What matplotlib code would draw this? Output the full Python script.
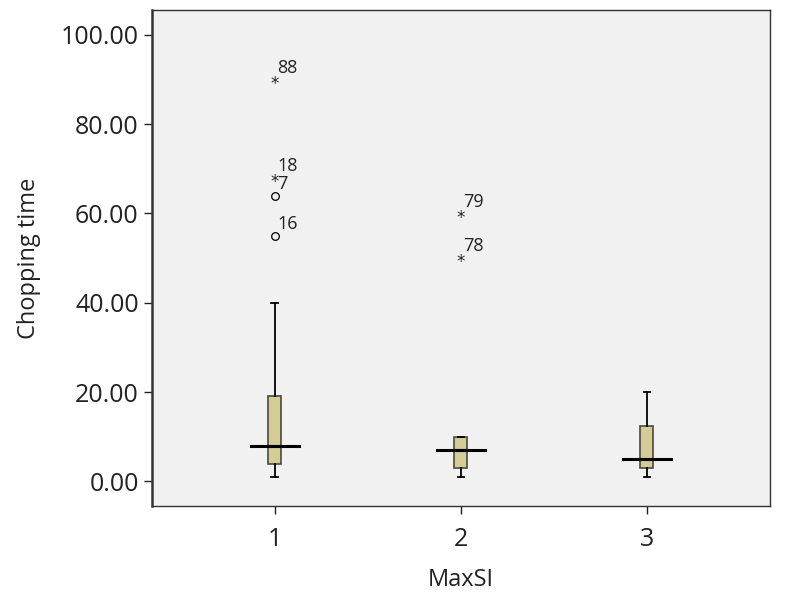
import matplotlib.pyplot as plt

plt.rcParams['font.family'] = ['Open Sans', 'DejaVu Sans']

# Box summary values
groups = [1, 2, 3]
whis_lo = [1, 1, 1]
q1 = [3.8, 3.0, 3.0]
med = [8.0, 7.0, 5.0]
q3 = [19.0, 10.0, 12.5]
whis_hi = [40, 10, 20]

# Outliers: group, value, case number, kind ('o' = outlier, '*' = extreme)
out_group = [1, 1, 1, 1, 2, 2]
out_value = [90, 68, 64, 55, 60, 50]
out_label = ['88', '18', '7', '16', '79', '78']
out_kind = ['*', '*', 'o', 'o', '*', '*']

fig = plt.figure(figsize=(7.87, 5.98), dpi=100)
ax = fig.add_axes([0.193, 0.154, 0.785, 0.829])
ax.set_facecolor('#f0f1f0')

stats = []
for i in range(len(groups)):
    stats.append({'whislo': whis_lo[i], 'q1': q1[i], 'med': med[i],
                  'q3': q3[i], 'whishi': whis_hi[i], 'fliers': []})

ax.bxp(stats, positions=groups, widths=0.07, patch_artist=True,
       showfliers=False,
       boxprops=dict(facecolor='#d3cc96', edgecolor='#4a4a3a', linewidth=1.2),
       medianprops=dict(color='black', linewidth=2.2),
       whiskerprops=dict(color='black', linewidth=1.3),
       capprops=dict(color='black', linewidth=1.3))

# widen medians like SPSS
for g, m in zip(groups, med):
    ax.plot([g - 0.13, g + 0.13], [m, m], color='black', linewidth=2.2, zorder=5)

for g, v, lab, k in zip(out_group, out_value, out_label, out_kind):
    if k == 'o':
        ax.plot(g, v, marker='o', markersize=5.5, markerfacecolor='none',
                markeredgecolor='black', markeredgewidth=0.9)
    else:
        ax.annotate('*', (g, v), xytext=(0, -3), textcoords='offset points',
                    ha='center', va='center', fontsize=12,
                    family='DejaVu Sans', color='#222222')
    ax.annotate(lab, (g, v), xytext=(2, 2), textcoords='offset points',
                fontsize=13, color='#222222', ha='left', va='bottom')

ax.set_xlim(0.34, 3.66)
ax.set_ylim(-5.5, 105.5)
ax.set_xticks(groups)
ax.set_xticklabels([str(g) for g in groups])
ax.set_yticks([0, 20, 40, 60, 80, 100])
ax.set_yticklabels(['%.2f' % t for t in [0, 20, 40, 60, 80, 100]])
ax.tick_params(axis='both', labelsize=18, colors='#222222', length=6, width=1, direction='out')
ax.tick_params(axis='x', pad=9)
for s in ax.spines.values():
    s.set_color('#333333')
    s.set_linewidth(1)
ax.spines['left'].set_linewidth(1.8)

ax.set_xlabel('MaxSI', fontsize=17, color='#222222', labelpad=12)
ax.set_ylabel('Chopping time', fontsize=17, color='#222222', labelpad=14)

plt.savefig('out.png', dpi=100)
